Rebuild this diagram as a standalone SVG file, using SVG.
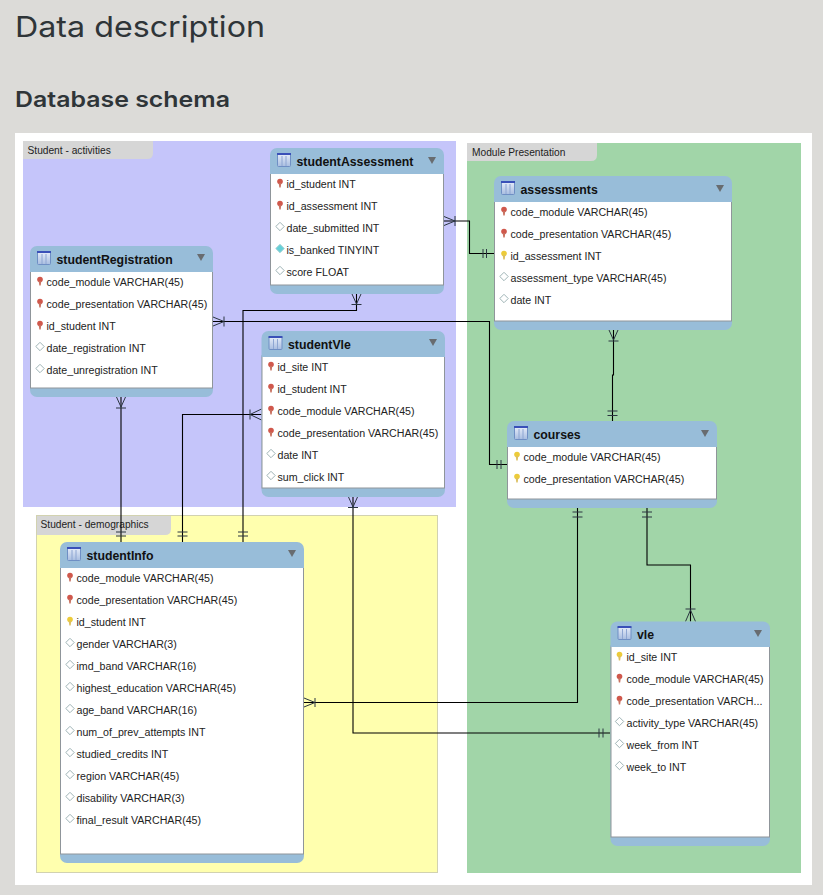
<svg xmlns="http://www.w3.org/2000/svg" width="823" height="895" viewBox="0 0 823 895">
<style>
.h{font-family:"Inter","Open Sans",sans-serif;fill:#2f3538}
.rt{font-family:"Liberation Sans",Arial,sans-serif;font-size:10.65px;fill:#222}
.tt{font-family:"Liberation Sans",Arial,sans-serif;font-size:12.3px;font-weight:700;fill:#111}
.lb{font-family:"Liberation Sans",Arial,sans-serif;font-size:10.2px;fill:#222}
.tab{fill:#d6d6d6}
.tb{fill:#fff;stroke:#8f959a;stroke-width:1}
.hd{fill:#98bdd9}
.c{fill:none;stroke:#000;stroke-width:1.1}
.m{fill:none;stroke:#2a3540;stroke-width:1}
.tri{fill:#686c70}
</style>
<defs>
<linearGradient id="ig" x1="0" y1="0" x2="0" y2="1"><stop offset="0" stop-color="#e8eefa"/><stop offset="1" stop-color="#a8bde0"/></linearGradient>
<g id="icon"><rect x="0.5" y="0.5" width="13" height="13" rx="1" fill="url(#ig)" stroke="#6f8fc4"/><rect x="0" y="0" width="14" height="2" fill="#3a50b8"/><path d="M5 3V13M9 3V13" stroke="#8ea6d2" fill="none"/></g>
<g id="kr"><circle cx="0" cy="-1.500" r="2.800" fill="#d0584c"/><path d="M-1.300 0H1.300L0.700 4.500H-0.700Z" fill="#c8705f"/></g>
<g id="ky"><circle cx="0" cy="-1.500" r="2.800" fill="#eccb3a"/><path d="M-1.300 0H1.300L0.700 4.500H-0.700Z" fill="#dcc060"/></g>
<path id="dw" d="M0 -4.200L4.200 0L0 4.200L-4.200 0Z" fill="#fff" stroke="#9fb4b6"/>
<path id="dc" d="M0 -4.200L4.200 0L0 4.200L-4.200 0Z" fill="#66d0d8" stroke="#9fd0d2"/>
<path id="t" d="M-4 0H4L0 7Z" class="tri"/>
</defs>
<rect width="823" height="895" fill="#dcdbd8"/>
<text class="h" x="15" y="37" font-size="29" textLength="250" lengthAdjust="spacingAndGlyphs">Data description</text>
<text class="h" x="15" y="107" font-size="22" font-weight="600" textLength="215" lengthAdjust="spacingAndGlyphs">Database schema</text>
<rect x="15" y="133" width="797" height="752" fill="#fff"/>

<g id="layer-activities"><rect x="23" y="141" width="433" height="366" fill="#c5c5fa"/><path class="tab" d="M23 141H153V153Q153 159 147 159H23Z"/><text class="lb" x="27.500" y="154">Student - activities</text></g>
<g id="layer-module"><rect x="467" y="143" width="334" height="730" fill="#a1d5a8"/><path class="tab" d="M467 143H597V155Q597 161 591 161H467Z"/><text class="lb" x="472" y="156">Module Presentation</text></g>
<g id="layer-demographics"><rect x="36.500" y="515.500" width="401" height="357" fill="#ffffae" stroke="#d2d2b0"/><path class="tab" d="M37 516H171V529Q171 535 165 535H37Z"/><text class="lb" x="40.500" y="528">Student - demographics</text></g>

<g id="connectors">
<path class="c" d="M444 221H469.500V253.500H494"/>
<path class="m" d="M444 216.500L455 221L444 225.500M455 216V226M483 249V258M486.500 249V258"/>
<path class="c" d="M356.500 294V310.500H243V542"/>
<path class="m" d="M352 294L356.500 304L361 294M351.500 304.500H361.500M238 532H248M238 536H248"/>
<path class="c" d="M213 321.500H489.500V464.500H507"/>
<path class="m" d="M213 317L224 321.500L213 326M224 316.500V326.500M497 460V469M501 460V469"/>
<path class="c" d="M121 397V542"/>
<path class="m" d="M116.500 397L121 407L125.500 397M116 408H126M116 532H126M116 536H126"/>
<path class="c" d="M261.500 414.500H182.500V542"/>
<path class="m" d="M261.500 409L250 414.500L261.500 420M250 409.500V419.500M177.500 532H187.500M177.500 536H187.500"/>
<path class="c" d="M353 497V733H610"/>
<path class="m" d="M348.500 497L353 507L357.500 497M348 507.500H358M599 728.500V737.500M603 728.500V737.500"/>
<path class="c" d="M613.500 330V375H612.500V421"/>
<path class="m" d="M609 330L613.500 340L618 330M608.500 341H618.500M607.500 411H617.500M607.500 415.500H617.500"/>
<path class="c" d="M577.500 508V702.500H304"/>
<path class="m" d="M572.500 512H582.500M572.500 517H582.500M304 698L315 702.500L304 707M315 698V707"/>
<path class="c" d="M647 508V565H690.500V621.500"/>
<path class="m" d="M642 512H652M642 517H652M685.500 609H695.500M685.500 621.500L690.500 610L695.500 621.500"/>
</g>

<g id="studentAssessment">
<rect class="hd" x="270" y="148" width="174" height="146" rx="7"/><rect class="tb" x="270.500" y="173" width="173" height="112"/><rect x="270" y="172" width="174" height="2" class="hd"/>
<use href="#icon" x="277" y="153"/><text class="tt" x="296.500" y="165.500">studentAssessment</text><use href="#t" x="432" y="157"/>
<use href="#kr" x="280" y="183"/><text class="rt" x="286.500" y="188">id_student INT</text>
<use href="#kr" x="280" y="205"/><text class="rt" x="286.500" y="210">id_assessment INT</text>
<use href="#dw" x="280" y="226.500"/><text class="rt" x="286.500" y="232">date_submitted INT</text>
<use href="#dc" x="280" y="248.500"/><text class="rt" x="286.500" y="254">is_banked TINYINT</text>
<use href="#dw" x="280" y="270.500"/><text class="rt" x="286.500" y="276">score FLOAT</text>
</g>

<g id="studentRegistration">
<rect class="hd" x="30" y="246" width="183" height="151" rx="7"/><rect class="tb" x="30.500" y="271" width="182" height="117"/><rect x="30" y="270" width="183" height="2" class="hd"/>
<use href="#icon" x="37" y="251"/><text class="tt" x="56.500" y="263.500">studentRegistration</text><use href="#t" x="201" y="254"/>
<use href="#kr" x="40" y="281"/><text class="rt" x="46.500" y="286">code_module VARCHAR(45)</text>
<use href="#kr" x="40" y="303"/><text class="rt" x="46.500" y="308">code_presentation VARCHAR(45)</text>
<use href="#kr" x="40" y="325"/><text class="rt" x="46.500" y="330">id_student INT</text>
<use href="#dw" x="40" y="346.500"/><text class="rt" x="46.500" y="352">date_registration INT</text>
<use href="#dw" x="40" y="368.500"/><text class="rt" x="46.500" y="374">date_unregistration INT</text>
</g>

<g id="studentVle">
<rect class="hd" x="261.500" y="331" width="183.500" height="166" rx="7"/><rect class="tb" x="262" y="356" width="182.500" height="132"/><rect x="261.500" y="355" width="183.500" height="2" class="hd"/>
<use href="#icon" x="268.500" y="336"/><text class="tt" x="288" y="348.500">studentVle</text><use href="#t" x="433" y="339"/>
<use href="#kr" x="271" y="366"/><text class="rt" x="277.500" y="371">id_site INT</text>
<use href="#kr" x="271" y="388"/><text class="rt" x="277.500" y="393">id_student INT</text>
<use href="#kr" x="271" y="410"/><text class="rt" x="277.500" y="415">code_module VARCHAR(45)</text>
<use href="#kr" x="271" y="432"/><text class="rt" x="277.500" y="437">code_presentation VARCHAR(45)</text>
<use href="#dw" x="271" y="453.500"/><text class="rt" x="277.500" y="459">date INT</text>
<use href="#dw" x="271" y="475.500"/><text class="rt" x="277.500" y="481">sum_click INT</text>
</g>

<g id="assessments">
<rect class="hd" x="494" y="176" width="238" height="154" rx="7"/><rect class="tb" x="494.500" y="201" width="237" height="120"/><rect x="494" y="200" width="238" height="2" class="hd"/>
<use href="#icon" x="501" y="181"/><text class="tt" x="520.500" y="193.500">assessments</text><use href="#t" x="720" y="185"/>
<use href="#kr" x="504" y="211"/><text class="rt" x="510.500" y="216">code_module VARCHAR(45)</text>
<use href="#kr" x="504" y="233"/><text class="rt" x="510.500" y="238">code_presentation VARCHAR(45)</text>
<use href="#ky" x="504" y="255"/><text class="rt" x="510.500" y="260">id_assessment INT</text>
<use href="#dw" x="504" y="276.500"/><text class="rt" x="510.500" y="282">assessment_type VARCHAR(45)</text>
<use href="#dw" x="504" y="298.500"/><text class="rt" x="510.500" y="304">date INT</text>
</g>

<g id="courses">
<rect class="hd" x="507" y="421" width="210" height="87" rx="7"/><rect class="tb" x="507.500" y="446" width="209" height="53"/><rect x="507" y="445" width="210" height="2" class="hd"/>
<use href="#icon" x="514" y="426"/><text class="tt" x="533.500" y="438.500">courses</text><use href="#t" x="705" y="430"/>
<use href="#ky" x="517" y="456"/><text class="rt" x="523.500" y="461">code_module VARCHAR(45)</text>
<use href="#ky" x="517" y="478"/><text class="rt" x="523.500" y="483">code_presentation VARCHAR(45)</text>
</g>

<g id="vle">
<rect class="hd" x="610.500" y="621.500" width="159.500" height="224.500" rx="7"/><rect class="tb" x="611" y="646" width="158.500" height="191"/><rect x="610.500" y="645" width="159.500" height="2" class="hd"/>
<use href="#icon" x="617.500" y="626"/><text class="tt" x="637" y="639">vle</text><use href="#t" x="758" y="630"/>
<use href="#ky" x="619.500" y="656"/><text class="rt" x="626.500" y="661">id_site INT</text>
<use href="#kr" x="619.500" y="678"/><text class="rt" x="626.500" y="683">code_module VARCHAR(45)</text>
<use href="#kr" x="619.500" y="700"/><text class="rt" x="626.500" y="705">code_presentation VARCH...</text>
<use href="#dw" x="619.500" y="721.500"/><text class="rt" x="626.500" y="727">activity_type VARCHAR(45)</text>
<use href="#dw" x="619.500" y="743.500"/><text class="rt" x="626.500" y="749">week_from INT</text>
<use href="#dw" x="619.500" y="765.500"/><text class="rt" x="626.500" y="771">week_to INT</text>
</g>

<g id="studentInfo">
<rect class="hd" x="60" y="542" width="244" height="321" rx="7"/><rect class="tb" x="60.500" y="567" width="243" height="287"/><rect x="60" y="566" width="244" height="2" class="hd"/>
<use href="#icon" x="67" y="547"/><text class="tt" x="86.500" y="559.500">studentInfo</text><use href="#t" x="292" y="550"/>
<use href="#kr" x="70" y="577"/><text class="rt" x="76.500" y="582">code_module VARCHAR(45)</text>
<use href="#kr" x="70" y="599"/><text class="rt" x="76.500" y="604">code_presentation VARCHAR(45)</text>
<use href="#ky" x="70" y="621"/><text class="rt" x="76.500" y="626">id_student INT</text>
<use href="#dw" x="70" y="642.500"/><text class="rt" x="76.500" y="648">gender VARCHAR(3)</text>
<use href="#dw" x="70" y="664.500"/><text class="rt" x="76.500" y="670">imd_band VARCHAR(16)</text>
<use href="#dw" x="70" y="686.500"/><text class="rt" x="76.500" y="692">highest_education VARCHAR(45)</text>
<use href="#dw" x="70" y="708.500"/><text class="rt" x="76.500" y="714">age_band VARCHAR(16)</text>
<use href="#dw" x="70" y="730.500"/><text class="rt" x="76.500" y="736">num_of_prev_attempts INT</text>
<use href="#dw" x="70" y="752.500"/><text class="rt" x="76.500" y="758">studied_credits INT</text>
<use href="#dw" x="70" y="774.500"/><text class="rt" x="76.500" y="780">region VARCHAR(45)</text>
<use href="#dw" x="70" y="796.500"/><text class="rt" x="76.500" y="802">disability VARCHAR(3)</text>
<use href="#dw" x="70" y="818.500"/><text class="rt" x="76.500" y="824">final_result VARCHAR(45)</text>
</g>
</svg>
